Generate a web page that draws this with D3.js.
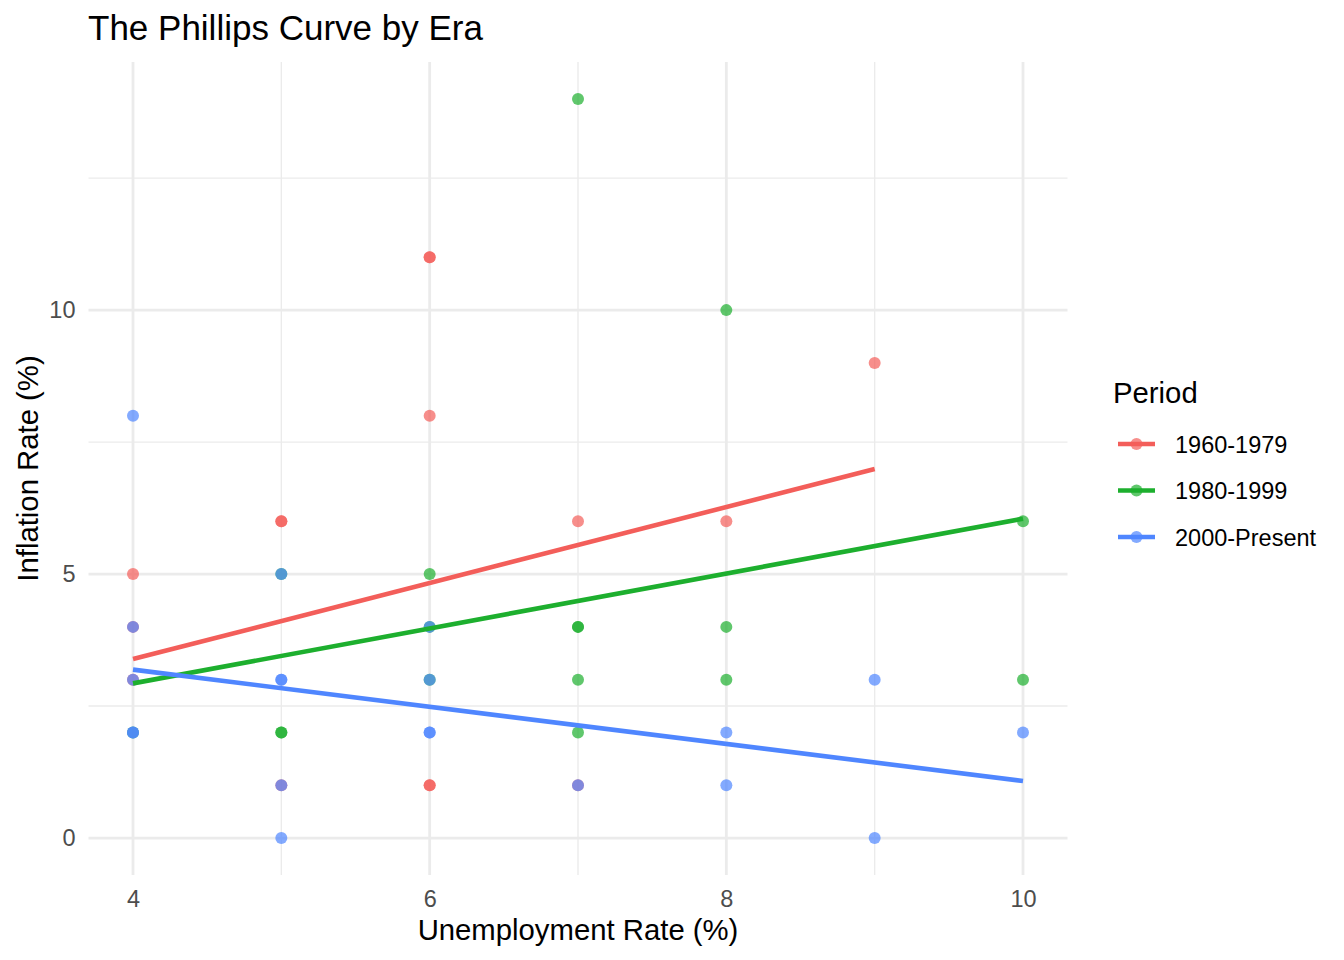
<!DOCTYPE html>
<html>
<head>
<meta charset="utf-8">
<script src="https://cdn.jsdelivr.net/npm/d3@7"></script>
<style>
  html, body { margin: 0; padding: 0; background: #fff; }
  svg { display: block; font-family: "Liberation Sans", Arial, Helvetica, sans-serif; }
</style>
</head>
<body>
<svg id="chart" width="1344" height="960"></svg>
<script>
// ---- data ----
const periods = ["1960-1979", "1980-1999", "2000-Present"];
const colors = ["#F35E5A", "#1DAF2E", "#4F86FF"];

const unemp1960 = [4, 4, 4, 5, 5, 5, 6, 6, 6, 6, 6, 7, 7, 8, 9];
const infl1960  = [5, 4, 3, 6, 6, 1, 11, 11, 8, 1, 1, 6, 1, 6, 9];

const unemp1980 = [4, 5, 5, 5, 6, 6, 6, 7, 7, 7, 7, 7, 8, 8, 8, 10, 10];
const infl1980  = [2, 5, 2, 2, 5, 4, 3, 14, 4, 4, 3, 2, 10, 4, 3, 6, 3];

const unemp2000 = [4, 4, 4, 4, 4, 5, 5, 5, 5, 5, 6, 6, 6, 6, 7, 8, 8, 9, 9, 10];
const infl2000  = [8, 4, 3, 2, 2, 5, 3, 3, 1, 0, 4, 3, 2, 2, 1, 2, 1, 3, 0, 2];

// fitted trend endpoints
const fitXStart = [4, 4, 4];
const fitYStart = [3.39, 2.93, 3.19];
const fitXEnd   = [9, 10, 10];
const fitYEnd   = [6.99, 6.05, 1.08];

const xTicks = [4, 6, 8, 10];
const xMinor = [5, 7, 9];
const yTicks = [0, 5, 10];
const yMinor = [2.5, 7.5, 12.5];

// ---- layout ----
const svg = d3.select("#chart");
const panel = { left: 88.5, right: 1067.5, top: 62, bottom: 875 };

const x = d3.scaleLinear().domain([3.7, 10.3]).range([panel.left, panel.right]);
const y = d3.scaleLinear().domain([-0.7, 14.7]).range([panel.bottom, panel.top]);

const grid = svg.append("g");
grid.selectAll(".ymin").data(yMinor).join("line")
  .attr("x1", panel.left).attr("x2", panel.right)
  .attr("y1", d => y(d)).attr("y2", d => y(d))
  .attr("stroke", "#EBEBEB").attr("stroke-width", 1.4);
grid.selectAll(".xmin").data(xMinor).join("line")
  .attr("y1", panel.top).attr("y2", panel.bottom)
  .attr("x1", d => x(d)).attr("x2", d => x(d))
  .attr("stroke", "#EBEBEB").attr("stroke-width", 1.4);
grid.selectAll(".ymaj").data(yTicks).join("line")
  .attr("x1", panel.left).attr("x2", panel.right)
  .attr("y1", d => y(d)).attr("y2", d => y(d))
  .attr("stroke", "#EBEBEB").attr("stroke-width", 2.8);
grid.selectAll(".xmaj").data(xTicks).join("line")
  .attr("y1", panel.top).attr("y2", panel.bottom)
  .attr("x1", d => x(d)).attr("x2", d => x(d))
  .attr("stroke", "#EBEBEB").attr("stroke-width", 2.8);

// axes (labels only, ggplot minimal style)
const xAxis = svg.append("g").attr("transform", `translate(0,${panel.bottom})`)
  .call(d3.axisBottom(x).tickValues(xTicks).tickSize(0).tickPadding(15).tickFormat(d3.format("d")));
xAxis.select(".domain").remove();
xAxis.selectAll("text").attr("font-size", 23.5).attr("fill", "#4D4D4D")
  .attr("font-family", "Liberation Sans, Arial, sans-serif");

const yAxis = svg.append("g").attr("transform", `translate(${panel.left},0)`)
  .call(d3.axisLeft(y).tickValues(yTicks).tickSize(0).tickPadding(13).tickFormat(d3.format("d")));
yAxis.select(".domain").remove();
yAxis.selectAll("text").attr("font-size", 23.5).attr("fill", "#4D4D4D")
  .attr("font-family", "Liberation Sans, Arial, sans-serif");

// points
const series = [
  { name: periods[0], xs: unemp1960, ys: infl1960 },
  { name: periods[1], xs: unemp1980, ys: infl1980 },
  { name: periods[2], xs: unemp2000, ys: infl2000 }
];
const pts = svg.append("g");
series.forEach((s, i) => {
  pts.selectAll(null).data(s.xs.map((v, j) => [v, s.ys[j]])).join("circle")
    .attr("cx", d => x(d[0])).attr("cy", d => y(d[1])).attr("r", 6)
    .attr("fill", colors[i]).attr("fill-opacity", 0.7);
});

// trend lines
const lines = svg.append("g");
periods.forEach((p, i) => {
  lines.append("line")
    .attr("x1", x(fitXStart[i])).attr("y1", y(fitYStart[i]))
    .attr("x2", x(fitXEnd[i])).attr("y2", y(fitYEnd[i]))
    .attr("stroke", colors[i]).attr("stroke-width", 4.6);
});

// title and axis titles
svg.append("text").attr("x", 88).attr("y", 40).attr("font-size", 35).attr("fill", "#000")
  .text("The Phillips Curve by Era");
svg.append("text").attr("x", (panel.left + panel.right) / 2).attr("y", 940)
  .attr("text-anchor", "middle").attr("font-size", 29.3).attr("fill", "#000")
  .text("Unemployment Rate (%)");
svg.append("text").attr("transform", `translate(38,${(panel.top + panel.bottom) / 2}) rotate(-90)`)
  .attr("text-anchor", "middle").attr("font-size", 29.3).attr("fill", "#000")
  .text("Inflation Rate (%)");

// legend
const leg = svg.append("g");
leg.append("text").attr("x", 1113).attr("y", 403).attr("font-size", 29.3).attr("fill", "#000").text("Period");
periods.forEach((p, i) => {
  const cy = 444 + i * 46.5;
  leg.append("line").attr("x1", 1118).attr("x2", 1155).attr("y1", cy).attr("y2", cy)
    .attr("stroke", colors[i]).attr("stroke-width", 4.6);
  leg.append("circle").attr("cx", 1136.5).attr("cy", cy).attr("r", 6)
    .attr("fill", colors[i]).attr("fill-opacity", 0.7);
  leg.append("text").attr("x", 1175).attr("y", cy + 8.5).attr("font-size", 23.5).attr("fill", "#000").text(p);
});
</script>
</body>
</html>
